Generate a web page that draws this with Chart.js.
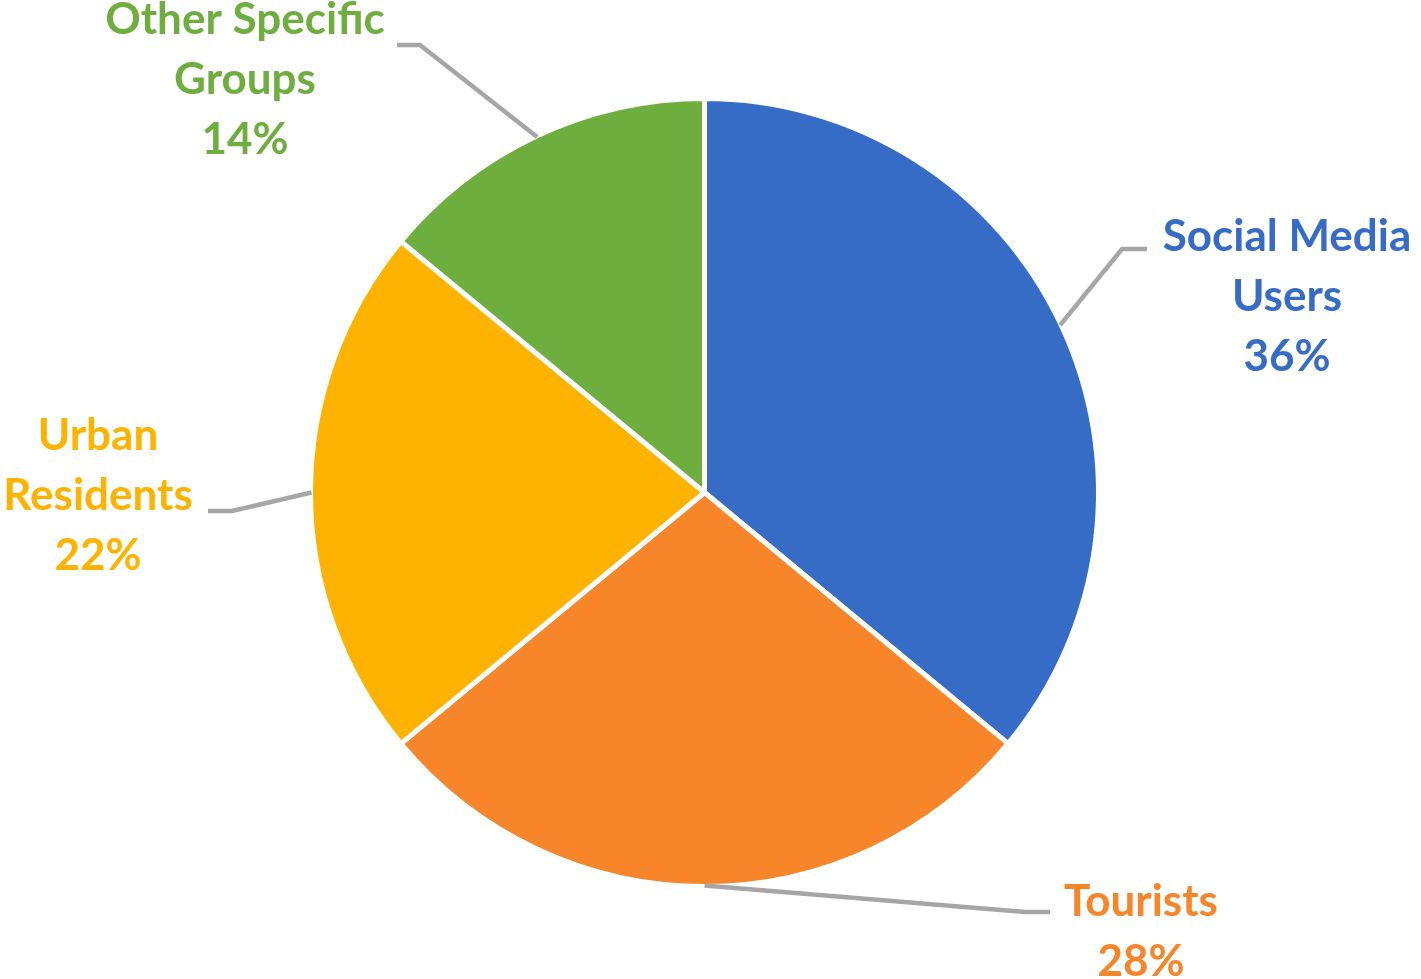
<!DOCTYPE html>
<html>
<head>
<meta charset="utf-8">
<script src="https://cdn.jsdelivr.net/npm/chart.js@4/dist/chart.umd.min.js"></script>
<style>
    body{ margin: 0; background: #ffffff; }
    .grafico-ct{ width: 1421px; height: 979px; position: relative; }
</style>
</head>
<body>
<div class="grafico-ct"><canvas id="grafico"></canvas></div>
<script>
//*************  Dados  ****************/
let categorias = ["Social Media Users", "Tourists", "Urban Residents", "Other Specific Groups"]
let percentagens = [36, 28, 22, 14]
// linhas de texto de cada etiqueta
let etiquetas = [
    ["Social Media", "Users", "36%"],
    ["Tourists", "28%"],
    ["Urban", "Residents", "22%"],
    ["Other Specific", "Groups", "14%"]
]
let cores = ["#366cc5", "#f7852a", "#fdb300", "#6eae3f"]

//*************  Posição das etiquetas (layout)  ****************/
// centro do texto da 1ª linha + fim da linha de ligação
let posTexto = [
    {x: 1287, y: 237, cotoveloX: 1122, cotoveloY: 249, fimX: 1147},
    {x: 1141, y: 902, cotoveloX: 1025, cotoveloY: 912, fimX: 1050},
    {x: 98, y: 436, cotoveloX: 232, cotoveloY: 511, fimX: 208},
    {x: 245, y: 20, cotoveloX: 420, cotoveloY: 45, fimX: 397}
]

// plugin para desenhar as etiquetas com linhas de ligação
const etiquetasPlugin = {
    id: "etiquetas",
    afterDatasetsDraw(chart){
        let ctx = chart.ctx
        let arcos = chart.getDatasetMeta(0).data
        ctx.save()
        for(let i = 0; i < arcos.length; i++){
            let a = arcos[i]
            let meio = (a.startAngle + a.endAngle) / 2
            let r = a.outerRadius - 1
            let x0 = a.x + Math.cos(meio) * r
            let y0 = a.y + Math.sin(meio) * r
            let p = posTexto[i]

            // linha de ligação
            ctx.strokeStyle = "#a6a6a6"
            ctx.lineWidth = 4.5
            ctx.lineJoin = "miter"
            ctx.beginPath()
            ctx.moveTo(x0, y0)
            ctx.lineTo(p.cotoveloX, p.cotoveloY)
            ctx.lineTo(p.fimX, p.cotoveloY)
            ctx.stroke()

            // texto
            ctx.fillStyle = cores[i]
            ctx.font = "bold 44px Lato"
            ctx.textAlign = "center"
            ctx.textBaseline = "middle"
            for(let k = 0; k < etiquetas[i].length; k++){
                ctx.fillText(etiquetas[i][k], p.x, p.y + k * 60)
            }
        }
        ctx.restore()
    }
}

const GP = document.getElementById("grafico")

new Chart(GP, {
    type: "pie",
    data: {
        labels: categorias,
        datasets: [{
            data: percentagens,
            backgroundColor: cores,
            borderColor: "#ffffff",
            borderWidth: 5
        }]
    },
    options: {
        responsive: true,
        maintainAspectRatio: false,
        animation: false,
        layout: {
            padding: {top: 96, bottom: 90, left: 300, right: 312}
        },
        plugins: {
            legend: {display: false},
            tooltip: {enabled: false}
        }
    },
    plugins: [etiquetasPlugin]
})
</script>
</body>
</html>
